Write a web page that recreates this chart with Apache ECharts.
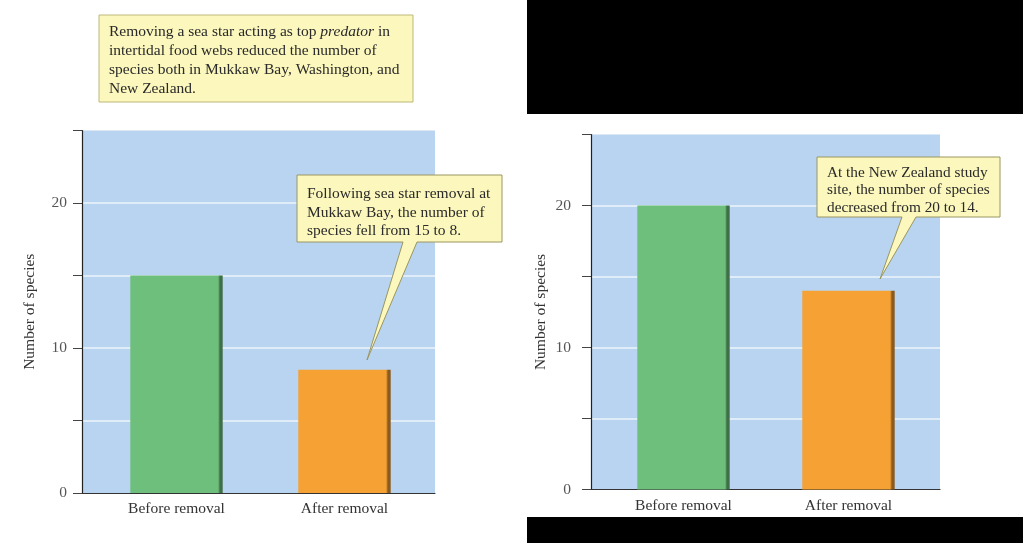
<!DOCTYPE html>
<html>
<head>
<meta charset="utf-8">
<script src="https://cdn.jsdelivr.net/npm/echarts@6/dist/echarts.min.js"></script>
<style>
html,body{margin:0;padding:0;background:#fff;}
#chart{width:1023px;height:543px;}
</style>
</head>
<body>
<div id="chart"></div>
<script>
// ---- data ----
var categories = ['Before removal', 'After removal'];
var mukkawValues = [15, 8.5];
var newZealandValues = [20, 14];
var yTickLabels = ['0', '10', '20'];
var yAxisName = 'Number of species';
var introText = ['Removing a sea star acting as top {i|predator} in', 'intertidal food webs reduced the number of', 'species both in Mukkaw Bay, Washington, and', 'New Zealand.'];
var mukkawNote = ['Following sea star removal at', 'Mukkaw Bay, the number of', 'species fell from 15 to 8.'];
var nzNote = ['At the New Zealand study', 'site, the number of species', 'decreased from 20 to 14.'];

var FONT = '"Liberation Serif", "DejaVu Serif", serif';
var barColors = ['#6fbf7c', '#f5a133'];
var barDark = ['#3f6e47', '#8a5a1e'];

function barStyle(i) {
  return {
    color: new echarts.graphic.LinearGradient(0, 0, 1, 0, [
      {offset: 0, color: barColors[i]},
      {offset: 0.95, color: barColors[i]},
      {offset: 0.97, color: barDark[i]},
      {offset: 1, color: barDark[i]}
    ])
  };
}

function makeData(vals) {
  return vals.map(function (v, i) { return {value: v, itemStyle: barStyle(i)}; });
}

function yAxisMain(gridIndex, gap, margin) {
  return {
    type: 'value', gridIndex: gridIndex, min: 0, max: 25, interval: 5,
    name: yAxisName, nameLocation: 'middle', nameGap: gap,
    nameTextStyle: {fontFamily: FONT, fontSize: 15.5, color: '#333'},
    axisLine: {show: true, lineStyle: {color: '#222', width: 1.2}},
    axisTick: {show: true, length: 9, lineStyle: {color: '#444'}},
    axisLabel: {
      margin: margin, fontFamily: FONT, fontSize: 15.5, color: '#555',
      formatter: function (v) { return yTickLabels.indexOf(String(v)) >= 0 ? String(v) : ''; }
    },
    splitLine: {show: true, showMaxLine: false, showMinLine: false, lineStyle: {color: '#eef4fb', width: 1.5}}
  };
}

function yAxisHidden(gridIndex) {
  return {type: 'value', gridIndex: gridIndex, min: 0, max: 25, interval: 5, show: false, splitLine: {show: false}};
}

function xAxisMain(gridIndex) {
  return {
    type: 'category', gridIndex: gridIndex, data: categories,
    axisLine: {show: true, lineStyle: {color: '#333', width: 1.2}},
    axisTick: {show: false}, axisLabel: {show: false}
  };
}

function xAxisBars(gridIndex) {
  return {
    type: 'category', gridIndex: gridIndex, data: categories,
    axisLine: {show: false}, axisTick: {show: false},
    axisLabel: {margin: 8, fontFamily: FONT, fontSize: 15.5, color: '#333'}
  };
}

function callout(x, y, w, h, baseL, baseR, tipX, tipY, lines, fs, lh, padTop) {
  var pts = [[x, y], [x + w, y], [x + w, y + h], [baseR, y + h], [tipX, tipY], [baseL, y + h], [x, y + h]];
  return [
    {type: 'polygon', shape: {points: pts}, style: {fill: '#fbf7bd', stroke: '#9a9660', lineWidth: 1}, z: 100},
    {type: 'text', left: x + 10, top: y + padTop, z: 101,
     style: {text: lines.join('\n'), font: fs + 'px ' + FONT, fill: '#2a2a2a', lineHeight: lh}}
  ];
}

var chart = echarts.init(document.getElementById('chart'), null, {renderer: 'canvas'});

var graphics = [
  {type: 'rect', shape: {x: 527, y: 0, width: 496, height: 114}, style: {fill: '#000'}, z: 0},
  {type: 'rect', shape: {x: 527, y: 517, width: 496, height: 26}, style: {fill: '#000'}, z: 0},
  {type: 'rect', shape: {x: 99, y: 15, width: 314, height: 87}, style: {fill: '#fbf7bd', stroke: '#bdb878', lineWidth: 1}, z: 100},
  {type: 'text', left: 109, top: 22, z: 101,
   style: {text: introText.join('\n'), font: '15.5px ' + FONT, fill: '#2a2a2a', lineHeight: 19,
           rich: {i: {fontStyle: 'italic', fontFamily: FONT, fontSize: 15.5, fill: '#2a2a2a'}}}}
].concat(
  callout(297, 175, 205, 67, 403, 417, 367, 360, mukkawNote, 15.5, 18.5, 10),
  callout(817, 157, 183, 60, 902, 916, 880, 279, nzNote, 15.3, 17.5, 7)
);

chart.setOption({
  animation: false,
  backgroundColor: '#ffffff',
  grid: [
    {left: 82, top: 130.5, width: 353, height: 362.5, show: true, backgroundColor: '#b8d4f0', borderWidth: 0},
    {left: 591, top: 134.5, width: 349, height: 355, show: true, backgroundColor: '#b8d4f0', borderWidth: 0},
    {left: 92.5, top: 130.5, width: 336, height: 362.5},
    {left: 601, top: 134.5, width: 330, height: 355}
  ],
  xAxis: [xAxisMain(0), xAxisMain(1), xAxisBars(2), xAxisBars(3)],
  yAxis: [yAxisMain(0, 44, 15), yAxisMain(1, 42, 20), yAxisHidden(2), yAxisHidden(3)],
  series: [
    {type: 'bar', xAxisIndex: 2, yAxisIndex: 2, data: makeData(mukkawValues), barWidth: '55%'},
    {type: 'bar', xAxisIndex: 3, yAxisIndex: 3, data: makeData(newZealandValues), barWidth: '56%'}
  ],
  graphic: graphics
});
</script>
</body>
</html>
